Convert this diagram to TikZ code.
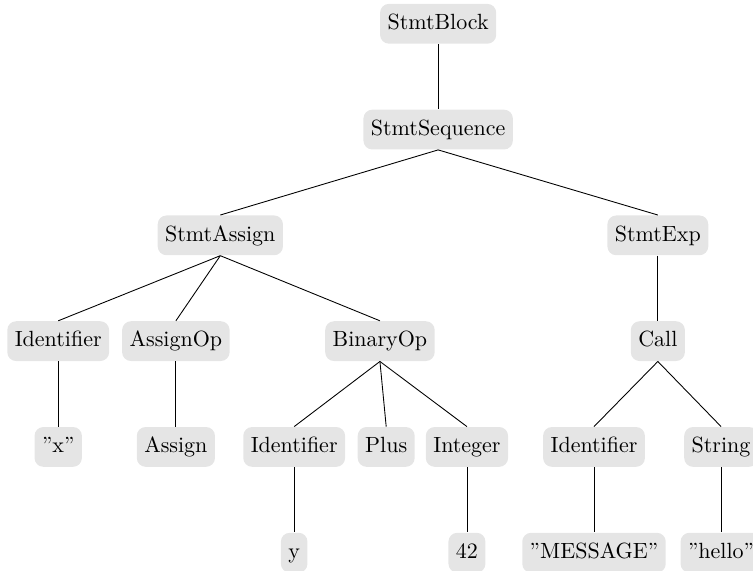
\documentclass[tikz,border=0pt]{standalone}
\usepackage{amsmath}
\usepackage{amssymb}
\usepackage{tikz}

\tikzset{
  ast/.style={fill=black!10,rounded corners=4pt,inner xsep=3.4pt,inner ysep=4.3pt,
    text height=1.7ex,text depth=0.5ex},
}

\begin{document}
\begin{tikzpicture}[node distance=1.69cm]
      \useasboundingbox (-7.0,0.38) rectangle (5.03,-8.74);
      \node[ast] (blk) {StmtBlock};
      \node[ast,below of=blk] (seq) {StmtSequence};
      \node[ast,below of=seq,xshift=-3.48cm] (asg) {StmtAssign};
      \node[ast,below of=seq,xshift=3.51cm] (exp) {StmtExp};

      \node[ast,below of=asg,xshift=-2.59cm] (id1) {Identifier};
      \node[ast,below of=asg,xshift=-0.71cm] (aop) {AssignOp};
      \node[ast,below of=asg,xshift=2.55cm] (bin) {BinaryOp};
      \node[ast,below of=exp] (call) {Call};

      \node[ast,below of=id1] (x) {''x''};
      \node[ast,below of=aop] (as) {Assign};
      \node[ast,below of=bin,xshift=-1.37cm] (id2) {Identifier};
      \node[ast,below of=bin,xshift=0.10cm] (plus) {Plus};
      \node[ast,below of=bin,xshift=1.39cm] (int) {Integer};
      \node[ast,below of=call,xshift=-1.02cm] (id3) {Identifier};
      \node[ast,below of=call,xshift=1.01cm] (str) {String};

      \node[ast,below of=id2] (y) {y};
      \node[ast,below of=int] (num) {42};
      \node[ast,below of=id3] (msg) {''MESSAGE''};
      \node[ast,below of=str] (hel) {''hello''};

      \draw (blk.south) -- (seq.north);
      \draw (seq.south) -- (asg.north);
      \draw (seq.south) -- (exp.north);
      \draw (asg.south) -- (id1.north);
      \draw (asg.south) -- (aop.north);
      \draw (asg.south) -- (bin.north);
      \draw (exp.south) -- (call.north);
      \draw (id1.south) -- (x.north);
      \draw (aop.south) -- (as.north);
      \draw (bin.south) -- (id2.north);
      \draw (bin.south) -- (plus.north);
      \draw (bin.south) -- (int.north);
      \draw (call.south) -- (id3.north);
      \draw (call.south) -- (str.north);
      \draw (id2.south) -- (y.north);
      \draw (int.south) -- (num.north);
      \draw (id3.south) -- (msg.north);
      \draw (str.south) -- (hel.north);
    \end{tikzpicture}
\end{document}
